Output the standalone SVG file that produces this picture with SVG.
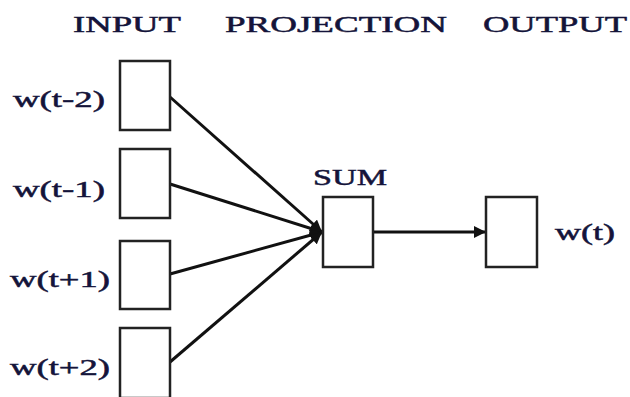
<svg xmlns="http://www.w3.org/2000/svg" width="630" height="397" viewBox="0 0 630 397">
<style>
.t{font-family:"Liberation Serif","Times New Roman",serif;fill:#14143a;stroke:#14143a;stroke-width:0.5;font-size:23px}
.b{fill:#fff;stroke:#222;stroke-width:2.5}
.c{stroke:#111;stroke-width:3;fill:none}
</style>
<defs>
<marker id="ah" viewBox="0 0 10 10" refX="10" refY="5" markerWidth="4" markerHeight="4" orient="auto" markerUnits="strokeWidth">
<path d="M0,0 L10,5 L0,10 z" fill="#111"/>
</marker>
</defs>
<rect width="630" height="397" fill="#fff"/>
<g id="headers">
<text class="t" x="73" y="32" textLength="108" lengthAdjust="spacingAndGlyphs">INPUT</text>
<text class="t" x="225" y="32" textLength="222" lengthAdjust="spacingAndGlyphs">PROJECTION</text>
<text class="t" x="483" y="32" textLength="144" lengthAdjust="spacingAndGlyphs">OUTPUT</text>
</g>
<g id="connectors">
<line class="c" x1="170" y1="97" x2="322" y2="232" marker-end="url(#ah)"/>
<line class="c" x1="170" y1="184" x2="322" y2="232" marker-end="url(#ah)"/>
<line class="c" x1="170" y1="274" x2="322" y2="232" marker-end="url(#ah)"/>
<line class="c" x1="170" y1="362" x2="322" y2="232" marker-end="url(#ah)"/>
<line class="c" x1="373" y1="232" x2="486" y2="232" marker-end="url(#ah)"/>
</g>
<g id="in1">
<rect class="b" x="120" y="61" width="50" height="69"/>
<text class="t" x="13" y="107" textLength="92" lengthAdjust="spacingAndGlyphs">w(t-2)</text>
</g>
<g id="in2">
<rect class="b" x="120" y="149" width="50" height="69"/>
<text class="t" x="13" y="197" textLength="92" lengthAdjust="spacingAndGlyphs">w(t-1)</text>
</g>
<g id="in3">
<rect class="b" x="120" y="241" width="50" height="68"/>
<text class="t" x="10" y="287" textLength="100" lengthAdjust="spacingAndGlyphs">w(t+1)</text>
</g>
<g id="in4">
<rect class="b" x="120" y="328" width="50" height="70"/>
<text class="t" x="10" y="375" textLength="100" lengthAdjust="spacingAndGlyphs">w(t+2)</text>
</g>
<g id="sum">
<rect class="b" x="323" y="197" width="50" height="70"/>
<text class="t" x="313" y="185" textLength="74" lengthAdjust="spacingAndGlyphs">SUM</text>
</g>
<g id="out">
<rect class="b" x="486" y="197" width="51" height="70"/>
<text class="t" x="555" y="240" textLength="60" lengthAdjust="spacingAndGlyphs">w(t)</text>
</g>
</svg>
